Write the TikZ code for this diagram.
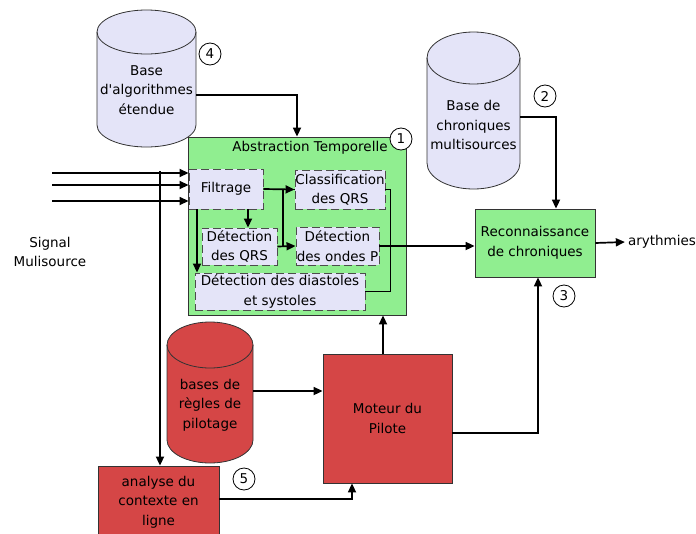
\documentclass[tikz,border=0pt]{standalone}
\usepackage{fontspec}
\setmainfont{DejaVu Sans}
\usetikzlibrary{arrows.meta,calc,positioning}
\definecolor{vert}{RGB}{144,238,144}
\definecolor{lavande}{RGB}{228,228,248}
\definecolor{rouge}{RGB}{213,70,70}

\tikzset{
  bloc/.style={draw=black!80, line width=0.8pt, align=center, inner sep=0pt},
  sousbloc/.style={draw=black!70, fill=lavande, dash pattern=on 8pt off 4pt, line width=0.9pt, align=center, inner sep=0pt},
  fleche/.style={line width=1.7pt, -{Triangle[length=9pt,width=8pt]}},
  trait/.style={line width=1.7pt},
  num/.style={draw, circle, fill=white, minimum size=22pt, inner sep=0pt, line width=0.8pt},
  base/.style={draw=black!80, line width=0.8pt},
}

% cylindre : x gauche, x droite, y haut des flancs, y bas des flancs, fleche, couleur
\newcommand{\cylindre}[6]{%
  \pgfmathsetmacro{\cylr}{(#2-#1)/2}
  \draw[base, fill=#6] (#1,#3) arc[start angle=180, end angle=0, x radius=\cylr pt, y radius=#5pt]
    -- (#2,#4) arc[start angle=0, end angle=-180, x radius=\cylr pt, y radius=#5pt] -- cycle;
  \draw[base] (#1,#3) arc[start angle=180, end angle=360, x radius=\cylr pt, y radius=#5pt];
}

\begin{document}
\begin{tikzpicture}[x=1pt, y=-1pt, font=\fontsize{13.5}{19.5}\selectfont]
\useasboundingbox (0,0) rectangle (696,533);

% bases
\cylindre{97}{196}{32}{125}{22}{lavande}
\node[align=center, minimum width=99pt, inner sep=0pt] (algos) at (146.5,90) {Base\\d\textquotesingle algorithmes\\étendue};
\cylindre{427}{520}{58}{163}{26}{lavande}
\node[align=center, minimum width=93pt, inner sep=0pt] (chroniques) at (473.5,125) {Base de\\chroniques\\multisources};
\cylindre{167}{253}{345}{440}{23}{rouge}
\node[align=center, minimum width=86pt, inner sep=0pt] (regles) at (210,405) {bases de\\règles de\\pilotage};

% abstraction temporelle
\node[bloc, fill=vert, minimum width=218pt, minimum height=178pt] (abstr) at (297,226) {};
\node (titre) at (310,148) {Abstraction Temporelle};
\node[sousbloc, minimum width=74pt, minimum height=40pt] (filtrage) at (226,189) {Filtrage};
\node[sousbloc, minimum width=90pt, minimum height=39pt] (classif) at (340,189.5) {Classification\\des QRS};
\node[sousbloc, minimum width=75pt, minimum height=37pt] (qrs) at (239.5,246.5) {Détection\\des QRS};
\node[sousbloc, minimum width=83pt, minimum height=38pt] (ondes) at (337.5,246) {Détection\\des ondes P};
\node[sousbloc, minimum width=170pt, minimum height=37pt] (diast) at (280,291.5) {Détection des diastoles\\et systoles};

% autres blocs
\node[bloc, fill=vert, minimum width=120pt, minimum height=68pt] (reco) at (535,243) {Reconnaissance\\de chroniques};
\node[bloc, fill=rouge, minimum width=129pt, minimum height=129pt] (moteur) at (387.5,418.5) {Moteur du\\Pilote};
\node[bloc, fill=rouge, minimum width=121pt, minimum height=72pt] (analyse) at (158.5,502) {analyse du\\contexte en\\ligne};
\node[inner sep=3pt] (aryth) at (662,242) {arythmies};
\node[align=center] (signal) at (50,252) {Signal\\Mulisource};
\coordinate (entree) at (52,185);
\coordinate (derivation) at (160,171);

% entrees
\foreach \dy in {16,4,-12}
  \draw[fleche] ([yshift=\dy pt]filtrage.west -| entree) -- ([yshift=\dy pt]filtrage.west);
\draw[fleche] (derivation) -- (derivation |- analyse.north);

% liaisons internes
\draw[fleche] (filtrage.east) -- (classif.west);
\draw[trait] ($(qrs.east)!0.3!(ondes.west)$) |- (classif.west);
\draw[fleche] (qrs.east) -- (ondes.west);
\draw[fleche] ([xshift=22pt]filtrage.south) -- ([xshift=22pt]filtrage.south |- qrs.north);
\draw[fleche] ([xshift=-29pt]filtrage.south) -- ([xshift=-29pt]filtrage.south |- diast.north);
\draw[trait] (classif.east) -- ++(5,0) |- (diast.east);
\draw[fleche] (ondes.east) -- (ondes.east -| reco.west);

% liaisons externes
\draw[fleche] ([yshift=-5pt]algos.east) -| (abstr.north);
\draw[fleche] ([yshift=8pt]chroniques.east) -| ([xshift=21pt]reco.north);
\draw[fleche] (reco.east) -- (aryth.west);
\draw[fleche] ([yshift=14pt]regles.east) -- ([yshift=14pt]regles.east -| moteur.west);
\draw[fleche] ([yshift=3pt]analyse.east) -| ([xshift=-35.5pt]moteur.south);
\draw[fleche] ([xshift=-4.5pt]moteur.north) -- ([xshift=-4.5pt]moteur.north |- abstr.south);
\draw[fleche] ([yshift=-14.5pt]moteur.east) -| ([xshift=3pt]reco.south);

% numeros
\node[num] (n1) at (401,139) {1};
\node[num] (n2) at (545,96) {2};
\node[num] (n3) at (564,296) {3};
\node[num] (n4) at (210,54) {4};
\node[num] (n5) at (244,479) {5};
\end{tikzpicture}
\end{document}
